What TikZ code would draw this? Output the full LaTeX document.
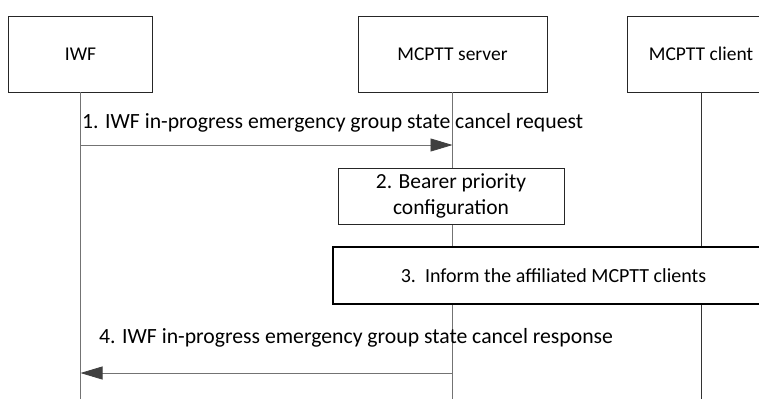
\documentclass[tikz,border=0pt]{standalone}
\usepackage{fontspec}
\setmainfont{Carlito}
\usetikzlibrary{arrows.meta}
\begin{document}
\begin{tikzpicture}[x=1pt,y=-1pt,
  every node/.style={font=\fontsize{20}{24}\selectfont},
  entity/.style={draw=black!85,line width=0.8pt,fill=white,minimum height=76pt,inner sep=0pt,font=\fontsize{19.5}{24}\selectfont},
  lifeline/.style={draw=black!55,line width=0.8pt},
  msg/.style={draw=black!55,line width=0.8pt,-{Triangle[length=22pt,width=13pt,fill=black!75,color=black!75]}},
  lbl/.style={anchor=west,inner sep=0pt,font=\fontsize{21.7}{26}\selectfont},
  actbox/.style={draw=black!85,line width=0.8pt,fill=white,inner sep=0pt,align=center}]
\useasboundingbox (0,0) rectangle (759,399);
% entities
\node[entity,minimum width=144pt] (iwf) at (80.5,54) {IWF};
\node[entity,minimum width=189pt] (srv) at (452.5,54) {MCPTT server};
\node[entity,minimum width=148pt] (cli) at (701,54) {MCPTT client};
% lifeline ends
\coordinate (iwfend) at (80.5,399);
\coordinate (srvend) at (452.5,399);
\coordinate (cliend) at (701,399);
\draw[lifeline] (iwf.south) -- (iwfend);
\draw[lifeline] (srv.south) -- (srvend);
\draw[lifeline,draw=black!80] (cli.south) -- (cliend);
% step 1
\coordinate (m1a) at (80.5,145);
\coordinate (m1b) at (452.5,145);
\draw[msg] (m1a) -- (m1b);
\node[lbl] (l1) at (82,123) {1. IWF in-progress emergency group state cancel request};
% step 2
\node[actbox,minimum width=226pt,minimum height=56pt,font=\fontsize{21.5}{26}\selectfont] (b2) at (451,196) {2. Bearer priority\\configuration};
% step 3
\node[actbox,line width=1.6pt,draw=black,minimum width=441pt,minimum height=57pt] (b3) at (553.5,275.5) {3.\ \ Inform the affiliated MCPTT clients};
% step 4
\coordinate (m4a) at (452.5,373);
\coordinate (m4b) at (80.5,373);
\draw[msg] (m4a) -- (m4b);
\node[lbl] (l4) at (99,338) {4. IWF in-progress emergency group state cancel response};
\end{tikzpicture}
\end{document}
